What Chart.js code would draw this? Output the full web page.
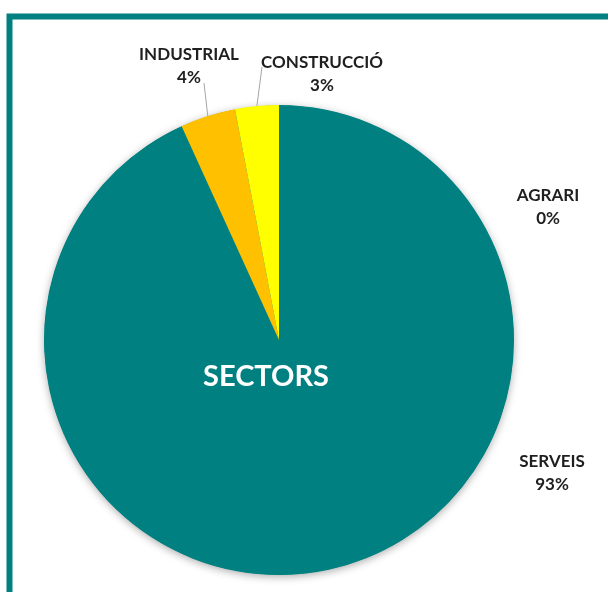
<!DOCTYPE html>
<html>
<head>
<meta charset="utf-8">
<script src="https://cdn.jsdelivr.net/npm/chart.js@4/dist/chart.umd.min.js"></script>
<style>
  html, body { margin: 0; padding: 0; background: #ffffff; }
  #wrap { width: 608px; height: 592px; position: relative; }
</style>
</head>
<body>
<div id="wrap"><canvas id="c" width="608" height="592"></canvas></div>
<script>
const categories = ['AGRARI', 'SERVEIS', 'INDUSTRIAL', 'CONSTRUCCIÓ'];
const values = [0, 93.2, 3.8, 3.0];
const sliceColors = ['#70AD47', '#008080', '#FFC000', '#FFFF00'];
const centerTitle = 'SECTORS';

// label placement, relative to pie centre in radius units (layout, not data)
const labelPlacement = [
  { dx: 1.145, dy: -0.568, leader: null },
  { dx: 1.162, dy: 0.564, leader: null },
  { dx: -0.383, dy: -1.164, leader: { x: 15, y: 16.5 } },
  { dx: 0.183, dy: -1.132, leader: { x: -60, y: -7 } }
];

const TEAL = '#008080';
const LABEL_FONT = 'bold 17px Lato, "Open Sans", sans-serif';

const framePlugin = {
  id: 'frame',
  beforeDraw(chart) {
    const ctx = chart.ctx;
    ctx.save();
    ctx.fillStyle = '#ffffff';
    ctx.fillRect(0, 0, chart.width, chart.height);
    ctx.strokeStyle = TEAL;
    ctx.lineWidth = 6;
    ctx.strokeRect(9.5, 16.5, 800, 800);
    ctx.restore();
  }
};

const shadowPlugin = {
  id: 'pieShadow',
  beforeDatasetsDraw(chart) {
    const arc = chart.getDatasetMeta(0).data[1];
    if (!arc) return;
    const ctx = chart.ctx;
    ctx.save();
    ctx.shadowColor = 'rgba(0,0,0,0.35)';
    ctx.shadowBlur = 9;
    ctx.shadowOffsetX = 0;
    ctx.shadowOffsetY = 2;
    ctx.fillStyle = TEAL;
    ctx.beginPath();
    ctx.arc(arc.x, arc.y, arc.outerRadius - 0.5, 0, Math.PI * 2);
    ctx.fill();
    ctx.restore();
  }
};

const labelPlugin = {
  id: 'sliceLabels',
  afterDatasetsDraw(chart) {
    const meta = chart.getDatasetMeta(0);
    const ctx = chart.ctx;
    const total = values.reduce((a, b) => a + b, 0);
    ctx.save();
    meta.data.forEach((arc, i) => {
      const cx = arc.x, cy = arc.y, r = arc.outerRadius;
      const p = labelPlacement[i];
      const lx = cx + p.dx * r;
      const ly = cy + p.dy * r;
      if (p.leader) {
        const mid = (arc.startAngle + arc.endAngle) / 2;
        const sx = cx + Math.cos(mid) * r;
        const sy = cy + Math.sin(mid) * r;
        ctx.strokeStyle = '#A6A6A6';
        ctx.lineWidth = 1;
        ctx.beginPath();
        ctx.moveTo(sx, sy);
        ctx.lineTo(lx + p.leader.x, ly + p.leader.y);
        ctx.stroke();
      }
      const pct = Math.round(values[i] / total * 100) + '%';
      ctx.fillStyle = '#1f1f1f';
      ctx.font = LABEL_FONT;
      ctx.textAlign = 'center';
      ctx.textBaseline = 'middle';
      ctx.fillText(categories[i], lx, ly - 11.5);
      ctx.fillText(pct, lx, ly + 11.5);
    });
    // centre title
    const a = meta.data[1];
    ctx.fillStyle = '#ffffff';
    ctx.font = 'bold 29px Lato, "Open Sans", sans-serif';
    ctx.textAlign = 'center';
    ctx.textBaseline = 'middle';
    ctx.fillText(centerTitle, a.x - 13, a.y + 37);
    ctx.restore();
  }
};

new Chart(document.getElementById('c'), {
  type: 'pie',
  data: {
    labels: categories,
    datasets: [{
      data: values,
      backgroundColor: sliceColors,
      borderWidth: 0
    }]
  },
  options: {
    responsive: false,
    animation: false,
    layout: { padding: { left: 44, right: 94, top: 105, bottom: 17 } },
    plugins: {
      legend: { display: false },
      tooltip: { enabled: false },
      title: { display: false }
    }
  },
  plugins: [framePlugin, shadowPlugin, labelPlugin]
});
</script>
</body>
</html>
